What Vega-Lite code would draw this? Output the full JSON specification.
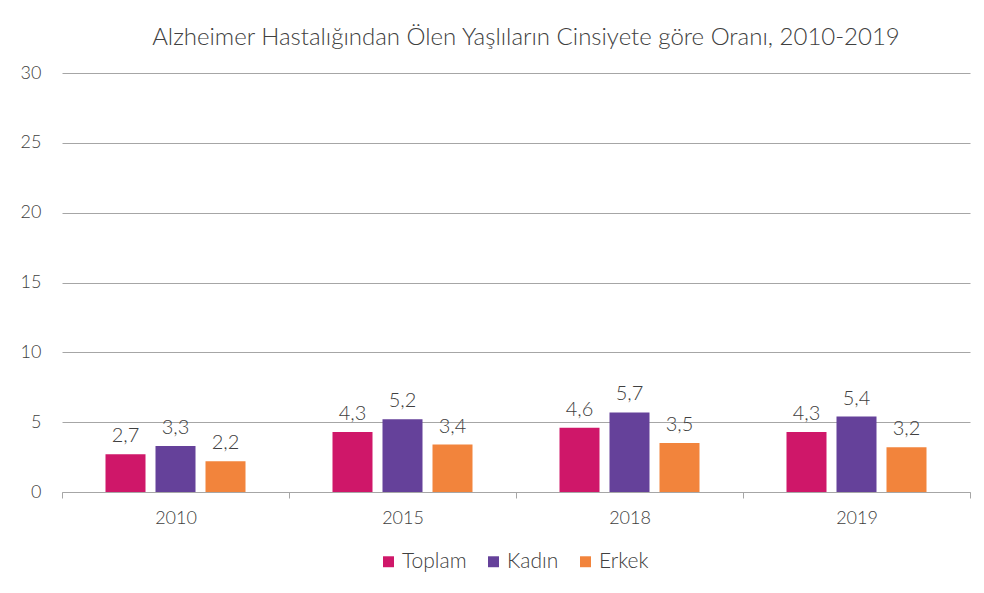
{
  "$schema": "https://vega.github.io/schema/vega-lite/v6.json",
  "width": 908,
  "height": 419,
  "autosize": {"type": "none"},
  "padding": {"left": 62, "top": 73, "right": 14, "bottom": 101},
  "background": "white",
  "title": {"text": "Alzheimer Hastalığından Ölen Yaşlıların Cinsiyete göre Oranı, 2010-2019", "fontSize": 24, "fontWeight": 300, "font": "Lato", "color": "#404040", "offset": 14, "dx": 10},
  "data": {"values": [
    {"yil": "2010", "cinsiyet": "Toplam", "oran": 2.7},
    {"yil": "2010", "cinsiyet": "Kadın", "oran": 3.3},
    {"yil": "2010", "cinsiyet": "Erkek", "oran": 2.2},
    {"yil": "2015", "cinsiyet": "Toplam", "oran": 4.3},
    {"yil": "2015", "cinsiyet": "Kadın", "oran": 5.2},
    {"yil": "2015", "cinsiyet": "Erkek", "oran": 3.4},
    {"yil": "2018", "cinsiyet": "Toplam", "oran": 4.6},
    {"yil": "2018", "cinsiyet": "Kadın", "oran": 5.7},
    {"yil": "2018", "cinsiyet": "Erkek", "oran": 3.5},
    {"yil": "2019", "cinsiyet": "Toplam", "oran": 4.3},
    {"yil": "2019", "cinsiyet": "Kadın", "oran": 5.4},
    {"yil": "2019", "cinsiyet": "Erkek", "oran": 3.2}
  ]},
  "encoding": {
    "x": {"field": "yil", "type": "nominal", "title": null,
      "scale": {"paddingInner": 0, "paddingOuter": 0},
      "axis": {"labelAngle": 0, "tickBand": "extent", "labelFontSize": 18, "labelFontWeight": 300, "labelColor": "#404040", "labelFont": "Lato", "labelPadding": 11, "domainColor": "#a6a6a6", "tickColor": "#a6a6a6", "tickSize": 6}},
    "xOffset": {"field": "cinsiyet", "type": "nominal", "sort": ["Toplam", "Kadın", "Erkek"],
      "scale": {"paddingInner": 0.2, "paddingOuter": 0.87}},
    "y": {"field": "oran", "type": "quantitative", "title": null,
      "scale": {"domain": [0, 30]},
      "axis": {"values": [0, 5, 10, 15, 20, 25, 30], "domain": false, "ticks": false, "labelFontSize": 18, "labelFontWeight": 300, "labelColor": "#404040", "labelFont": "Lato", "labelPadding": 21, "gridColor": "#a6a6a6", "gridWidth": 1}}
  },
  "layer": [
    {"mark": {"type": "bar"},
     "encoding": {
       "color": {"field": "cinsiyet", "type": "nominal", "sort": ["Toplam", "Kadın", "Erkek"], "title": null,
         "scale": {"domain": ["Toplam", "Kadın", "Erkek"], "range": ["#CF1769", "#65419A", "#F2843C"]},
         "legend": {"orient": "none", "legendX": 316, "legendY": 478, "direction": "horizontal", "symbolType": "square", "symbolSize": 120, "symbolStrokeWidth": 0, "labelFontSize": 21, "labelFontWeight": 300, "labelFont": "Lato", "labelColor": "#404040", "columnPadding": 16, "labelOffset": 3}}
     }},
    {"mark": {"type": "text", "baseline": "bottom", "dy": -8, "fontSize": 20, "fontWeight": 300, "font": "Lato", "color": "#404040"},
     "encoding": {"text": {"field": "oran", "type": "quantitative", "format": ".1f"}}}
  ],
  "config": {
    "locale": {"number": {"decimal": ",", "thousands": ".", "grouping": [3], "currency": ["", " ₺"]}},
    "view": {"stroke": null}
  }
}
